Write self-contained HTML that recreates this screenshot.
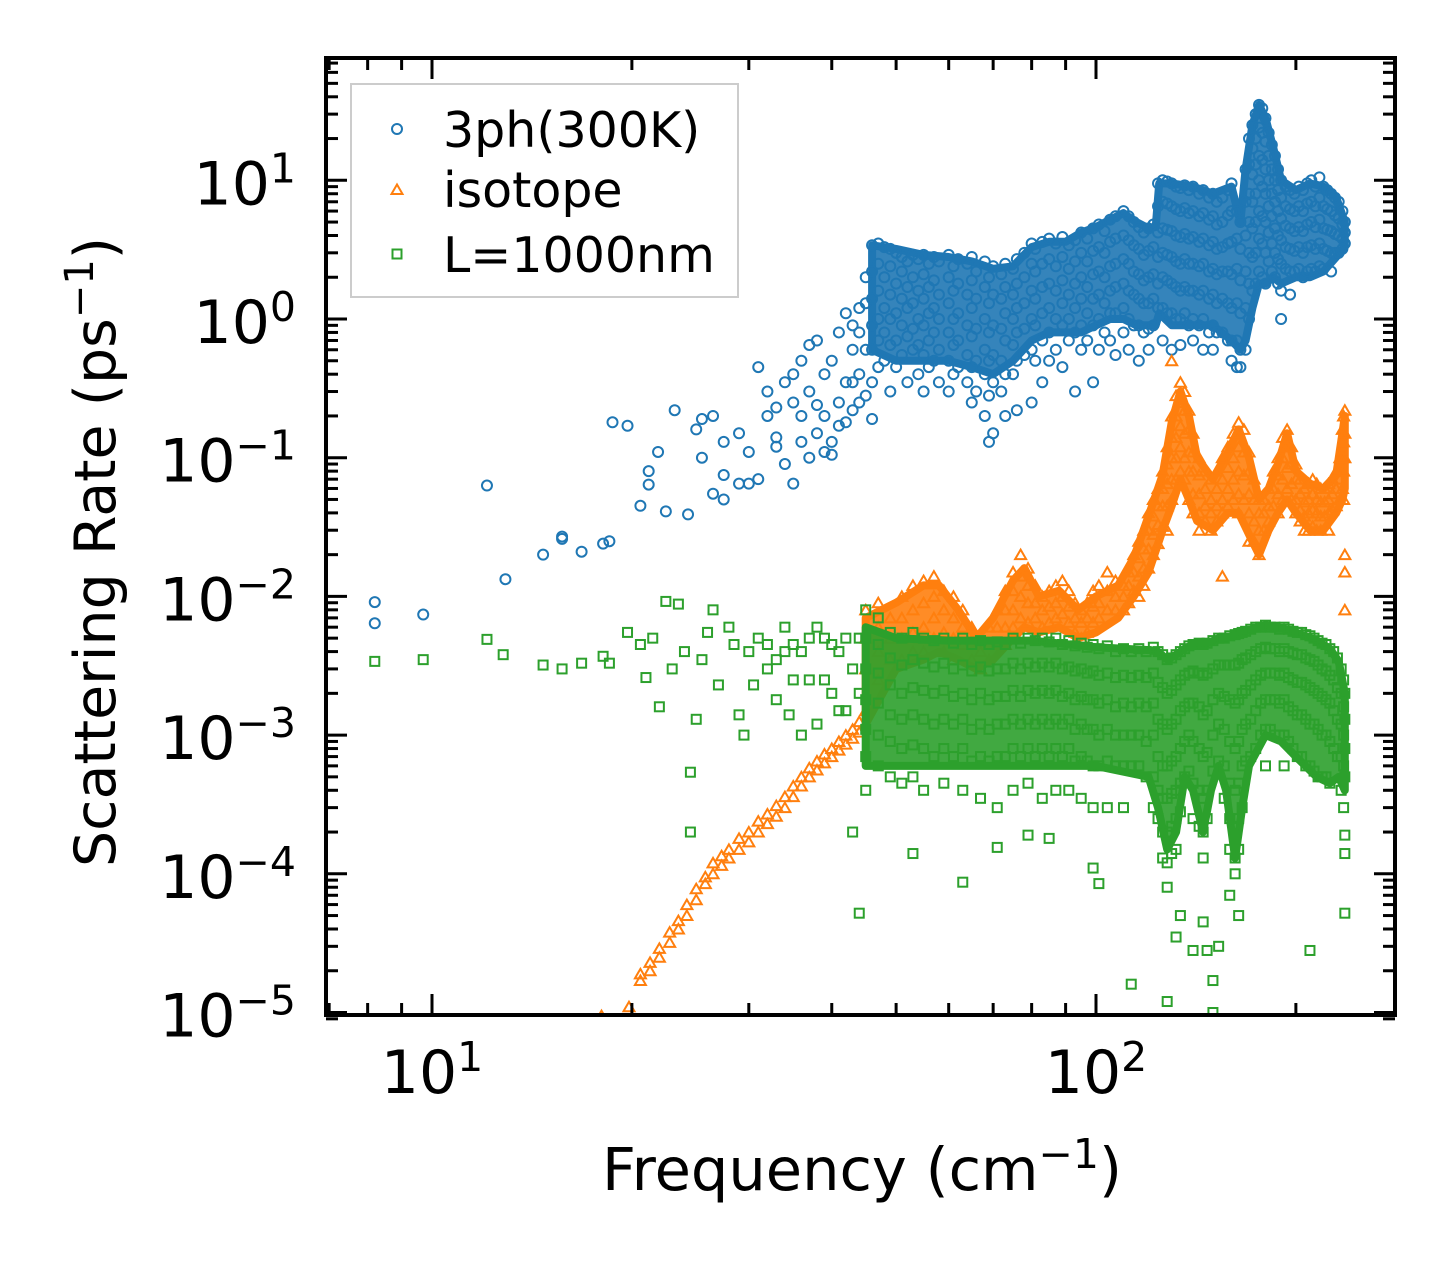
<!DOCTYPE html>
<html><head><meta charset="utf-8"><style>
html,body{margin:0;padding:0;background:#fff;}
svg{display:block;font-family:"DejaVu Sans","Liberation Sans",sans-serif;}
</style></head><body>
<svg id="chart" width="1455" height="1265" viewBox="0 0 1455 1265" xmlns="http://www.w3.org/2000/svg">
<defs><clipPath id="plotclip"><rect x="326" y="58" width="1069" height="957"/></clipPath></defs>
<rect x="0" y="0" width="1455" height="1265" fill="#fff"/>
<g id="series" clip-path="url(#plotclip)"></g>
<g id="axes"></g>
<text x="862" y="1190" font-size="59" text-anchor="middle">Frequency (cm<tspan dy="-22" font-size="41">−1</tspan><tspan dy="22">)</tspan></text>
<text transform="translate(115,552) rotate(-90)" font-size="57" text-anchor="middle">Scattering Rate (ps<tspan dy="-22" font-size="40">−1</tspan><tspan dy="22">)</tspan></text>
<g>
<rect x="351" y="84" width="387" height="213" fill="#fff" fill-opacity="0.8" stroke="#ccc" stroke-width="2"/>
<circle cx="397" cy="129" r="5" fill="none" stroke="#1f77b4" stroke-width="2"/>
<text x="443" y="147" font-size="49">3ph(300K)</text>
<path d="M391.5,194 L402.5,194 L397,184.5 Z" fill="none" stroke="#ff7f0e" stroke-width="2"/>
<text x="443" y="207" font-size="49">isotope</text>
<rect x="392.5" y="249.5" width="9" height="9" fill="none" stroke="#2ca02c" stroke-width="2"/>
<text x="443" y="272" font-size="49">L=1000nm</text>
</g>
</svg>
<script>
// ---- data: [frequency cm^-1, [rates ps^-1]] ----
const blueCols = [
[8.2,[9.1e-3,6.4e-3]],[9.7,[7.4e-3]],[12.1,[0.063]],[12.9,[0.0133]],[14.7,[0.020]],[15.7,[0.027,0.026]],[16.8,[0.021]],[18.1,[0.024]],[18.5,[0.025]],[18.7,[0.18]],[19.7,[0.17]],[20.6,[0.045]],[21.2,[0.08,0.064]],[21.9,[0.11]],[22.5,[0.041]],[23.2,[0.22]],[24.3,[0.039]],[25,[0.16]],[25.5,[0.19,0.1]],[26.5,[0.055,0.2]],[27.5,[0.075,0.05,0.13]],[29,[0.065,0.15]],[30,[0.065,0.11]],[31,[0.45,0.07]],[32,[0.2,0.3]],[33,[0.14,0.12,0.23]],[34,[0.35,0.09]],[35,[0.25,0.065,0.4]],[36,[0.5,0.13,0.2]],[37,[0.1,0.3,0.65]],[38,[0.7,0.15,0.24]],[39,[0.11,0.2,0.4]],[40,[0.105,0.5,0.13]],[41,[0.25,0.8,0.17]],[42,[1.1,0.18,0.35]],[43,[0.6,0.35,0.22,0.9]],[44,[0.8,0.4,0.25,1.2]],[45,[0.28,1.3,0.6,2.0]],[46,[3.4,2.2,1.4,0.9,0.6,0.35,0.19]],
[47,[3.5,2.5,1.6,1.0,0.7,0.45]],[48,[3.3,2.0,1.2,0.8,0.5]],[49,[3.2,2.4,1.5,1.0,0.65,0.3]],[50,[3.0,1.8,1.1,0.7,0.45]],[51,[2.8,2.2,1.4,0.9,0.55]],[52,[2.6,1.7,1.2,0.75,0.35]],[53,[2.9,2.0,1.3,0.85,0.6]],[54,[2.7,1.6,1.0,0.65,0.4]],[55,[2.9,2.1,1.4,0.9,0.55,0.3]],[56,[2.5,1.7,1.1,0.7,0.45]],[57,[2.8,1.9,1.2,0.8,0.5]],[58,[2.6,1.5,1.0,0.6,0.35]],[60,[2.9,2.0,1.3,0.8,0.5,0.3]],[61,[2.4,1.6,1.0,0.65,0.4]],[62,[2.7,1.8,1.1,0.7,0.45]],[64,[2.5,1.5,0.9,0.55,0.35]],[65,[2.8,1.9,1.2,0.75,0.45,0.25]],[66,[2.2,1.4,0.85,0.5,0.3]],[68,[2.6,1.7,1.0,0.6,0.4,0.2]],[69,[2.0,1.3,0.8,0.5,0.28,0.13]],[70,[2.4,1.5,0.9,0.55,0.35,0.15]],[72,[2.1,1.4,0.85,0.5,0.3]],[73,[2.5,1.7,1.1,0.7,0.4,0.2]],[75,[2.3,1.5,1.0,0.65,0.4]],[76,[2.7,1.8,1.2,0.8,0.5,0.22]],[78,[3.0,2.0,1.3,0.85,0.55]],[80,[3.5,2.5,1.6,1.0,0.6,0.25]],[81,[3.2,2.2,1.4,0.9,0.5]],[83,[3.6,2.5,1.7,1.1,0.7,0.35]],[85,[3.8,2.7,1.8,1.2,0.8,0.5]],[87,[3.5,2.4,1.6,1.0,0.6]],[89,[3.9,2.8,1.9,1.3,0.9,0.45]],[91,[3.4,2.3,1.5,1.0,0.7]],[93,[3.7,2.6,1.8,1.2,0.8,0.3]],[95,[4.2,3.0,2.0,1.4,0.9,0.6]],[97,[3.8,2.6,1.7,1.1,0.7]],[99,[4.5,3.1,2.1,1.4,0.9,0.35]],[101,[4.8,3.3,2.2,1.5,1.0,0.6]],[103,[4.3,3.0,2.0,1.3,0.8]],[105,[5.2,3.6,2.4,1.6,1.1,0.7]],[107,[5.5,3.8,2.5,1.7,1.1,0.55]],[110,[6.0,4.0,2.7,1.8,1.2,0.8]],[112,[5.5,3.7,2.5,1.6,1.0,0.6]],[114,[5.0,3.4,2.2,1.5,0.9]],[116,[4.6,3.2,2.1,1.4,0.9,0.5]],[118,[4.2,2.9,1.9,1.3,0.8]],[120,[4.5,3.1,2.0,1.3,0.85,0.6]],[122,[4.8,3.3,2.1,1.4,0.9]],[124,[9.5,6.5,4.2,2.8,1.8,1.2]],[126,[10,7,4.5,3.0,2.0,1.2,0.7]],[128,[9.8,6.8,4.4,2.9,1.9,1.1]],[130,[9.5,6.5,4.3,2.8,1.8,1.1,0.6]],[132,[9.0,6.2,4.0,2.6,1.7,1.0]],[134,[8.8,6.0,3.9,2.5,1.6,1.0,0.65]],[136,[9.2,6.3,4.1,2.7,1.7,1.1]],[138,[8.5,5.8,3.8,2.5,1.6,0.9]],[140,[9.0,6.0,3.9,2.5,1.6,1.0,0.7]],[143,[8.0,5.5,3.6,2.4,1.5,0.9]],[145,[8.5,5.8,3.8,2.5,1.6,1.0,0.6]],[148,[7.5,5.2,3.4,2.2,1.4,0.8]],[150,[8.0,5.5,3.6,2.3,1.5,0.9,0.6]],[152,[7.0,4.8,3.2,2.1,1.3,0.8]],[155,[7.5,5.0,3.3,2.2,1.4,0.8]],[158,[8.5,5.6,3.5,2.2,1.3,0.7]],[160,[9.5,6.0,3.6,2.1,1.2,0.7,0.5]],[163,[6.0,3.8,2.3,1.3,0.7,0.45]],[165,[5.0,3.2,1.9,1.1,0.6,0.45]],[168,[12,7,4,2.2,1.2,0.6]],[170,[20,13,8,5,3,1.8,1.0]],[172,[25,17,11,7,4.5,2.8,1.6]],[174,[30,20,13,8,5,3,1.8]],[176,[35,24,15,10,6,3.8,2.2]],[178,[33,22,14,9,5.5,3.5,2.0]],[180,[28,19,12,8,5,3,1.8]],[182,[22,15,10,6.5,4.2,2.6]],[184,[18,12,8,5.5,3.5,2.2]],[186,[15,10,7,4.5,3.0,2.0]],[188,[12,8.5,6,4,2.7,1.8]],[190,[10,7.5,5.3,3.7,2.5,1.6,1.0]],[193,[9,6.5,4.7,3.3,2.3]],[196,[8.5,6.2,4.5,3.2,2.2,1.5]],[199,[8,6,4.3,3.1,2.2]],[202,[9,6.5,4.6,3.3,2.3]],[205,[8.5,6,4.3,3.0,2.0]],[208,[9.5,6.8,4.8,3.3,2.2]],[211,[10,7,5,3.4,2.3]],[214,[9,6.5,4.6,3.2,2.2]],[217,[10.5,7.5,5.2,3.5,2.4]],[220,[9,6.5,4.5,3.2,2.3]],[223,[8.5,6.2,4.4,3.1]],[226,[8,6,4.3,3.0,2.2]],[229,[7.5,5.6,4.1,3.0]],[232,[7,5.3,4.0,3.0]],[235,[6,4.8,3.8,3.2]],[237,[5,4.2,3.5]]
];
const orangeCols = [
[18,[0.95e-5]],[19.8,[1.1e-5]],[20.6,[1.7e-5,1.9e-5]],[21.3,[2.0e-5,2.3e-5]],[22,[2.5e-5,2.9e-5]],[22.8,[3.2e-5,3.8e-5]],[23.5,[4e-5,4.6e-5]],[24.2,[5e-5,6e-5]],[25,[6.5e-5,7.8e-5]],[25.8,[8.5e-5,9.5e-5]],[26.5,[1.0e-4,1.2e-4]],[27.3,[1.15e-4,1.35e-4]],[28,[1.3e-4,1.5e-4]],[29,[1.5e-4,1.8e-4]],[30,[1.7e-4,2.0e-4]],[31,[2.0e-4,2.4e-4]],[32,[2.3e-4,2.7e-4]],[33,[2.6e-4,3.1e-4]],[34,[3.0e-4,3.6e-4]],[35,[3.6e-4,4.3e-4]],[36,[4.3e-4,5e-4]],[37,[5e-4,5.8e-4]],[38,[5.6e-4,6.5e-4]],[39,[6.3e-4,7.3e-4]],[40,[7e-4,8e-4]],[41,[7.8e-4,9e-4]],[42,[8.6e-4,1e-3]],[43,[9.5e-4,1.1e-3]],[44,[1.05e-3,1.25e-3]],
[45,[8e-3,5e-3,3e-3,1.5e-3]],[47,[9e-3,6e-3,4e-3,2.5e-3]],[49,[7e-3,5e-3,3.5e-3]],[51,[1.0e-2,7e-3,5e-3,3.5e-3]],[53,[1.2e-2,8e-3,5.5e-3,4e-3]],[55,[1.3e-2,9e-3,6e-3,4e-3]],[57,[1.4e-2,1.0e-2,7e-3,5e-3]],[59,[1.1e-2,8e-3,5.5e-3,4e-3]],[61,[1.0e-2,7e-3,5e-3,3.5e-3]],[63,[8e-3,6e-3,4.5e-3]],[65,[6e-3,4.5e-3,3.5e-3]],[67,[5e-3,4e-3,3e-3]],[69,[6e-3,4.5e-3,3.5e-3]],[71,[8e-3,6e-3,4.5e-3]],[73,[1.1e-2,8e-3,6e-3,4.5e-3]],[75,[1.5e-2,1.1e-2,8e-3,6e-3]],[77,[2.0e-2,1.4e-2,1.0e-2,7e-3]],[79,[1.6e-2,1.2e-2,9e-3,6.5e-3]],[81,[1.2e-2,9e-3,7e-3]],[83,[1.0e-2,8e-3,6e-3]],[85,[1.1e-2,8.5e-3,6.5e-3]],[87,[1.2e-2,9e-3,7e-3]],[89,[1.3e-2,1.0e-2,7.5e-3]],[91,[1.1e-2,8.5e-3,6.5e-3]],[93,[9e-3,7e-3,5.5e-3]],[95,[8e-3,6.5e-3,5e-3]],[97,[9e-3,7e-3,5.5e-3]],[99,[1.1e-2,8.5e-3,6.5e-3]],[101,[1.2e-2,9e-3,7e-3]],[104,[1.5e-2,1.1e-2,8e-3]],[107,[1.3e-2,1.0e-2,8e-3]],[110,[1.2e-2,1.0e-2,8e-3]],[112,[1.5e-2,1.2e-2,9e-3]],[114,[2.0e-2,1.5e-2,1.1e-2]],[116,[2.5e-2,1.9e-2,1.4e-2,1.0e-2]],[118,[3e-2,2.2e-2,1.6e-2,1.2e-2]],[120,[4e-2,3e-2,2.2e-2,1.6e-2]],[122,[5e-2,3.8e-2,2.8e-2,2.0e-2]],[124,[6e-2,4.5e-2,3.3e-2,2.4e-2]],[126,[8e-2,6e-2,4.5e-2,3.2e-2]],[128,[0.12,0.09,0.065,0.045,0.03]],[130,[0.5,0.2,0.14,0.1,0.07,0.05]],[132,[0.28,0.2,0.14,0.1,0.07]],[134,[0.35,0.25,0.17,0.12,0.08]],[136,[0.3,0.22,0.15,0.1,0.07]],[138,[0.22,0.16,0.11,0.08,0.05]],[140,[0.15,0.11,0.08,0.055,0.04]],[143,[0.1,0.075,0.055,0.04,0.03]],[146,[0.08,0.06,0.045,0.035]],[149,[0.07,0.05,0.04,0.03]],[152,[0.08,0.06,0.045,0.035]],[155,[0.1,0.07,0.05,0.04,0.014]],[158,[0.12,0.085,0.06,0.045]],[161,[0.15,0.1,0.07,0.05]],[164,[0.18,0.12,0.08,0.055,0.04]],[167,[0.16,0.11,0.075,0.05]],[170,[0.11,0.08,0.055,0.04,0.025]],[173,[0.07,0.05,0.035,0.025]],[176,[0.05,0.04,0.03,0.02]],[179,[0.05,0.04,0.03]],[182,[0.06,0.045,0.035]],[185,[0.08,0.06,0.045]],[188,[0.1,0.075,0.055,0.04]],[191,[0.14,0.1,0.07,0.05]],[194,[0.16,0.12,0.085,0.06]],[197,[0.12,0.09,0.065,0.05]],[200,[0.09,0.07,0.05,0.04]],[203,[0.07,0.055,0.042,0.035]],[206,[0.06,0.048,0.038,0.03]],[209,[0.065,0.05,0.04,0.03]],[212,[0.07,0.055,0.042,0.032]],[215,[0.065,0.05,0.04,0.03]],[218,[0.06,0.048,0.038,0.03]],[221,[0.06,0.048,0.038]],[224,[0.065,0.05,0.04,0.03]],[227,[0.07,0.055,0.042]],[230,[0.08,0.06,0.045]],[233,[0.1,0.07,0.05]],[235,[0.16,0.1,0.06]],[236,[0.2,0.13,0.08,0.05]],[237,[0.22,0.15,0.1,0.02,0.015,0.008]]
];
const greenCols = [
[8.2,[3.4e-3]],[9.7,[3.5e-3]],[12.1,[4.9e-3]],[12.8,[3.8e-3]],[14.7,[3.2e-3]],[15.7,[3e-3]],[16.8,[3.3e-3]],[18.1,[3.7e-3]],[18.5,[3.3e-3]],[19.7,[5.5e-3]],[20.6,[4.5e-3]],[21,[2.6e-3]],[21.5,[5e-3]],[22,[1.6e-3]],[22.5,[9.2e-3]],[23,[3e-3]],[23.5,[8.8e-3]],[24,[4e-3]],[24.5,[5.4e-4,2e-4]],[25,[1.3e-3]],[25.5,[3.5e-3]],[26,[5.5e-3]],[26.5,[8e-3]],[27,[2.3e-3]],[28,[6e-3]],[28.5,[4.5e-3]],[29,[1.4e-3]],[29.5,[1e-3]],[30,[4e-3]],[30.5,[2.3e-3]],[31,[5e-3]],[32,[3e-3,4.5e-3]],[33,[1.8e-3,3.5e-3]],[34,[6e-3,4e-3]],[34.5,[1.4e-3]],[35,[4.5e-3,2.5e-3]],[36,[1e-3,4e-3]],[37,[2.5e-3,5e-3]],[38,[6e-3,1.2e-3]],[39,[5e-3,2.5e-3]],[40,[2e-3,4.5e-3]],[41,[4e-3,1.5e-3]],[42,[1.5e-3,5e-3]],[43,[3e-3,2e-4]],[44,[5e-3,2e-3,5.2e-5]],
[45,[8e-3,5e-3,3e-3,1.8e-3,1.1e-3,7e-4,4e-4]],[47,[7e-3,4.5e-3,2.8e-3,1.7e-3,1e-3,6e-4]],[49,[5.5e-3,3.6e-3,2.3e-3,1.4e-3,9e-4,5e-4]],[51,[5e-3,3.2e-3,2e-3,1.3e-3,8e-4,4.5e-4]],[53,[5.5e-3,3.5e-3,2.2e-3,1.4e-3,8.5e-4,5e-4,1.4e-4]],[55,[5e-3,3.3e-3,2.1e-3,1.3e-3,8e-4,4e-4]],[57,[4.8e-3,3.1e-3,2e-3,1.2e-3,7e-4]],[59,[5e-3,3.3e-3,2.1e-3,1.3e-3,8e-4,4.5e-4]],[61,[4.6e-3,3e-3,1.9e-3,1.2e-3,7e-4]],[63,[5e-3,3.2e-3,2e-3,1.3e-3,8e-4,4e-4,8.7e-5]],[65,[4.5e-3,2.9e-3,1.8e-3,1.1e-3,6.5e-4]],[67,[4.8e-3,3.1e-3,2e-3,1.2e-3,7e-4,3.5e-4]],[69,[4.5e-3,2.9e-3,1.8e-3,1.1e-3,6.5e-4]],[71,[4.7e-3,3e-3,1.9e-3,1.2e-3,7e-4,3e-4,1.55e-4]],[73,[4.5e-3,3e-3,1.9e-3,1.2e-3,7e-4]],[75,[5e-3,3.3e-3,2.1e-3,1.3e-3,8e-4,4e-4]],[77,[4.6e-3,3e-3,1.9e-3,1.2e-3,7e-4]],[79,[5e-3,3.3e-3,2.1e-3,1.3e-3,8e-4,4.5e-4,1.9e-4]],[81,[4.8e-3,3.1e-3,2e-3,1.2e-3,7e-4]],[83,[5e-3,3.3e-3,2.1e-3,1.3e-3,8e-4,3.5e-4]],[85,[4.7e-3,3.1e-3,2e-3,1.2e-3,7e-4,1.8e-4]],[87,[5e-3,3.3e-3,2.1e-3,1.3e-3,8e-4,4e-4]],[89,[4.5e-3,3e-3,1.9e-3,1.2e-3,7e-4]],[91,[4.8e-3,3.1e-3,2e-3,1.3e-3,8e-4,4e-4]],[93,[4.4e-3,2.9e-3,1.8e-3,1.1e-3,6.5e-4]],[95,[4.6e-3,3e-3,1.9e-3,1.2e-3,7e-4,3.5e-4]],[97,[4.3e-3,2.8e-3,1.8e-3,1.1e-3,6.5e-4]],[99,[4.5e-3,2.9e-3,1.8e-3,1.1e-3,6e-4,3e-4,1.1e-4]],[101,[4.2e-3,2.7e-3,1.7e-3,1e-3,6e-4,8.5e-5]],[104,[4.4e-3,2.8e-3,1.8e-3,1.1e-3,6.5e-4,3e-4]],[107,[4e-3,2.6e-3,1.6e-3,1e-3,6e-4]],[110,[4.2e-3,2.7e-3,1.7e-3,1e-3,6e-4,3e-4]],[113,[4e-3,2.6e-3,1.6e-3,1e-3,6e-4,1.6e-5]],[116,[4.2e-3,2.7e-3,1.7e-3,1e-3,6e-4]],[119,[4e-3,2.6e-3,1.6e-3,9e-4,5e-4]],[122,[4.3e-3,2.8e-3,1.7e-3,1e-3,5e-4,3e-4]],[124,[4e-3,2.4e-3,1.3e-3,7e-4,4e-4,2.5e-4]],[126,[3.8e-3,2.2e-3,1.2e-3,6e-4,3.5e-4,2e-4,1.3e-4]],[128,[3.5e-3,2e-3,1.1e-3,6e-4,3.5e-4,2e-4,1.2e-4,8e-5,1.2e-5]],[130,[3.6e-3,2.1e-3,1.2e-3,6.5e-4,3.8e-4,2.2e-4,1.4e-4]],[132,[3.8e-3,2.3e-3,1.3e-3,7e-4,4e-4,2.5e-4,1.5e-4,3.5e-5]],[134,[4e-3,2.5e-3,1.5e-3,8e-4,4.5e-4,2.8e-4,5e-5]],[136,[4.2e-3,2.7e-3,1.6e-3,9e-4,5e-4]],[138,[4.4e-3,2.8e-3,1.7e-3,1e-3,5.5e-4]],[140,[4.5e-3,2.9e-3,1.7e-3,9e-4,4.5e-4,2.5e-4,2.8e-5]],[143,[4.6e-3,2.8e-3,1.6e-3,8e-4,4e-4,2.2e-4]],[145,[4.5e-3,2.7e-3,1.4e-3,7e-4,3.5e-4,2e-4,1.3e-4,4.5e-5]],[147,[4.6e-3,2.8e-3,1.5e-3,7.5e-4,4e-4,2.5e-4,2.8e-5]],[150,[4.8e-3,3e-3,1.8e-3,1e-3,5.5e-4,1.7e-5,1e-5]],[153,[5e-3,3.2e-3,2e-3,1.2e-3,6.5e-4,3e-5]],[156,[5e-3,3.2e-3,1.9e-3,1.1e-3,6e-4,3.5e-4]],[159,[5.2e-3,3.2e-3,1.8e-3,9e-4,4.5e-4,2.5e-4,1.5e-4,7e-5]],[162,[5.3e-3,3.2e-3,1.7e-3,8e-4,4e-4,2.2e-4,1.3e-4,1e-4]],[164,[5.4e-3,3.3e-3,1.8e-3,9e-4,4.5e-4,2.5e-4,1.5e-4,5e-5]],[166,[5.5e-3,3.5e-3,2e-3,1.1e-3,6e-4,3e-4]],[168,[5.6e-3,3.6e-3,2.1e-3,1.2e-3,6.5e-4]],[171,[5.8e-3,3.8e-3,2.3e-3,1.3e-3,7e-4]],[174,[6e-3,4e-3,2.5e-3,1.5e-3,8e-4]],[177,[6e-3,4.2e-3,2.7e-3,1.7e-3,1e-3]],[180,[6.2e-3,4.3e-3,2.8e-3,1.8e-3,1.1e-3,6e-4]],[183,[6e-3,4.2e-3,2.8e-3,1.8e-3,1.1e-3]],[186,[6e-3,4.2e-3,2.8e-3,1.8e-3,1e-3]],[189,[5.8e-3,4e-3,2.7e-3,1.7e-3,1e-3]],[192,[6e-3,4.2e-3,2.8e-3,1.8e-3,1e-3,6e-4]],[195,[5.8e-3,4e-3,2.6e-3,1.6e-3,9e-4]],[198,[5.6e-3,3.9e-3,2.5e-3,1.5e-3,8e-4]],[201,[5.5e-3,3.8e-3,2.4e-3,1.4e-3,7e-4]],[204,[5.5e-3,3.8e-3,2.4e-3,1.4e-3,7e-4]],[207,[5.3e-3,3.6e-3,2.3e-3,1.3e-3,6e-4]],[210,[5.2e-3,3.5e-3,2.2e-3,1.2e-3,6e-4,2.8e-5]],[213,[5e-3,3.4e-3,2.1e-3,1.2e-3,5.5e-4]],[216,[4.8e-3,3.2e-3,2e-3,1.1e-3,5e-4]],[219,[4.6e-3,3e-3,1.9e-3,1e-3,5e-4]],[222,[4.5e-3,2.9e-3,1.8e-3,1e-3,5e-4]],[225,[4.2e-3,2.7e-3,1.7e-3,9e-4,4.5e-4]],[228,[4e-3,2.5e-3,1.5e-3,8e-4]],[231,[3.6e-3,2.2e-3,1.3e-3,7e-4]],[234,[3e-3,2e-3,1.2e-3,7e-4,4e-4]],[236,[2.5e-3,1.6e-3,1e-3,6e-4,3e-4]],[237,[2e-3,1.3e-3,8e-4,5e-4,1.9e-4,1.4e-4,5.2e-5]]
];
// dense-cloud envelopes: [frequency, low rate, high rate]
const blueBand = [[46,0.6,3.4],[50,0.5,3.2],[55,0.5,2.9],[60,0.5,2.8],[65,0.45,2.6],[70,0.4,2.3],[75,0.5,2.4],[80,0.7,3.3],[85,0.8,3.6],[90,0.8,3.6],[95,0.8,4.2],[100,0.9,4.6],[105,1.0,5.2],[110,1.0,5.8],[115,0.9,5.0],[120,0.9,4.5],[123,0.9,4.6],[124.5,1.1,9.5],[130,0.9,9.5],[140,0.9,9.0],[150,0.9,8.0],[160,0.7,9.0],[165,0.6,5.0],[168,0.7,12],[172,1.2,25],[176,1.8,35],[180,1.8,28],[185,2.0,17],[190,1.8,10],[200,2.0,8.5],[210,2.0,9.5],[220,2.2,9.0],[230,2.8,7.5],[237,3.3,5.0]];
const orangeBand = [[45,1.2e-3,7e-3],[50,3e-3,9e-3],[55,3.5e-3,1.2e-2],[58,4e-3,1.2e-2],[62,3.5e-3,8e-3],[66,3e-3,5e-3],[70,3.5e-3,7e-3],[75,5e-3,1.3e-2],[78,6e-3,1.6e-2],[82,5.5e-3,1e-2],[88,6e-3,1.1e-2],[94,5e-3,8e-3],[100,5.5e-3,1e-2],[108,7e-3,1.2e-2],[114,1e-2,1.9e-2],[120,1.5e-2,3.8e-2],[126,3e-2,7.5e-2],[130,4.5e-2,0.18],[134,7e-2,0.3],[138,5e-2,0.2],[142,3.5e-2,0.1],[150,3e-2,0.07],[158,4e-2,0.11],[164,4e-2,0.16],[170,2.8e-2,0.1],[176,2e-2,0.05],[182,3e-2,0.06],[188,4e-2,0.09],[194,5e-2,0.15],[200,4e-2,0.08],[210,3e-2,0.065],[220,3e-2,0.06],[230,4e-2,0.075],[235,5e-2,0.15],[237,6e-2,0.2]];
const greenBand = [[45,6e-4,6e-3],[50,6e-4,5e-3],[60,6e-4,4.8e-3],[80,6e-4,4.8e-3],[100,6e-4,4.3e-3],[120,5e-4,4.1e-3],[124,3e-4,4e-3],[128,1.5e-4,3.5e-3],[132,2e-4,3.8e-3],[136,5e-4,4.2e-3],[140,4e-4,4.5e-3],[145,2e-4,4.5e-3],[149,4e-4,4.7e-3],[153,6e-4,5e-3],[157,4e-4,5e-3],[162,1.3e-4,5.3e-3],[166,3e-4,5.5e-3],[170,6e-4,5.7e-3],[180,1e-3,6.2e-3],[190,9e-4,5.9e-3],[200,7e-4,5.5e-3],[215,5e-4,4.8e-3],[225,4.5e-4,4.2e-3],[232,5e-4,3.4e-3],[237,4e-4,2e-3]];
const xMajorTicks = [10, 100];
const yMajorExps = [-5, -4, -3, -2, -1, 0, 1];

// ---- axis functions ----
const X0 = 326, X1 = 1395, Y0 = 58, Y1 = 1015;
function xPx(f){ return 432 + 664 * (Math.log10(f) - 1); }
function yPx(r){ return 319 - 138.7 * Math.log10(r); }

const NS = 'http://www.w3.org/2000/svg';
const series = document.getElementById('series');
const axes = document.getElementById('axes');
function mk(tag, attrs, parent){ const e = document.createElementNS(NS, tag); for (const k in attrs) e.setAttribute(k, attrs[k]); parent.appendChild(e); return e; }

function drawBand(band, color, name){
  let d = '';
  band.forEach((b, i) => { d += (i ? 'L' : 'M') + xPx(b[0]).toFixed(1) + ',' + yPx(b[2]).toFixed(1); });
  for (let i = band.length - 1; i >= 0; i--) d += 'L' + xPx(band[i][0]).toFixed(1) + ',' + yPx(band[i][1]).toFixed(1);
  d += 'Z';
  const p = mk('path', {d: d, fill: color, 'fill-opacity': 0.9, stroke: color, 'stroke-width': 8, 'stroke-linejoin': 'round'}, series);
  
  
}
function drawSeries(cols, color, shape, name){
  const g = mk('g', {}, series);
  
  
  cols.forEach(col => {
    const f = col[0];
    col[1].forEach(r => {
      const cx = xPx(f), cy = yPx(r);
      let el;
      if (shape === 'circle') el = mk('circle', {cx: cx, cy: cy, r: 5, fill: 'none', stroke: color, 'stroke-width': 2}, g);
      else if (shape === 'tri') el = mk('path', {d: `M${cx-5.5},${cy+4.5} L${cx+5.5},${cy+4.5} L${cx},${cy-5} Z`, fill: 'none', stroke: color, 'stroke-width': 2}, g);
      else el = mk('rect', {x: cx-4.5, y: cy-4.5, width: 9, height: 9, fill: 'none', stroke: color, 'stroke-width': 2}, g);
      
      
    });
  });
}
drawBand(blueBand, '#1f77b4', 'three-phonon');
drawSeries(blueCols, '#1f77b4', 'circle', 'three-phonon');
drawBand(orangeBand, '#ff7f0e', 'isotope');
drawSeries(orangeCols, '#ff7f0e', 'tri', 'isotope');
drawBand(greenBand, '#2ca02c', 'boundary');
drawSeries(greenCols, '#2ca02c', 'square', 'boundary');

// ---- ticks ----
function tick(x1, y1, x2, y2, w, nm){
  const t = mk('line', {x1: x1, y1: y1, x2: x2, y2: y2, stroke: '#000', 'stroke-width': w}, axes);
  
  
}
for (let d = 0; d <= 2; d++){
  for (let m = 1; m <= 9; m++){
    const f = m * Math.pow(10, d);
    const x = xPx(f);
    if (x < X0 || x > X1) continue;
    const major = (m === 1);
    const L = major ? 21 : 12;
    tick(x, Y1, x, Y1 - L, 3, major ? 'x-major-tick' : 'x-minor-tick');
    tick(x, Y0, x, Y0 + L, 3, major ? 'x-major-tick-top' : 'x-minor-tick-top');
  }
}
xMajorTicks.forEach(v => {
  const t = mk('text', {x: xPx(v), y: 1093, 'font-size': 60, 'text-anchor': 'middle'}, axes);
  
  
  t.innerHTML = '10<tspan dy="-22" font-size="41">' + Math.round(Math.log10(v)) + '</tspan>';
});
for (let e = -6; e <= 2; e++){
  for (let m = 1; m <= 9; m++){
    const r = m * Math.pow(10, e);
    const y = yPx(r);
    if (y < Y0 || y > Y1 + 4) continue;
    const major = (m === 1);
    const L = major ? 21 : 12;
    tick(X0, y, X0 + L, y, 3, major ? 'y-major-tick' : 'y-minor-tick');
    tick(X1, y, X1 - L, y, 3, major ? 'y-major-tick-right' : 'y-minor-tick-right');
  }
}
yMajorExps.forEach(e => {
  const t = mk('text', {x: 296, y: yPx(Math.pow(10, e)) + 24, 'font-size': 60, 'text-anchor': 'end'}, axes);
  
  
  t.innerHTML = '10<tspan dy="-22" font-size="41">' + (e < 0 ? '−' + (-e) : e) + '</tspan>';
});
const frame = mk('rect', {x: X0, y: Y0, width: X1 - X0, height: Y1 - Y0, fill: 'none', stroke: '#000', 'stroke-width': 4}, axes);


</script>
</body></html>
